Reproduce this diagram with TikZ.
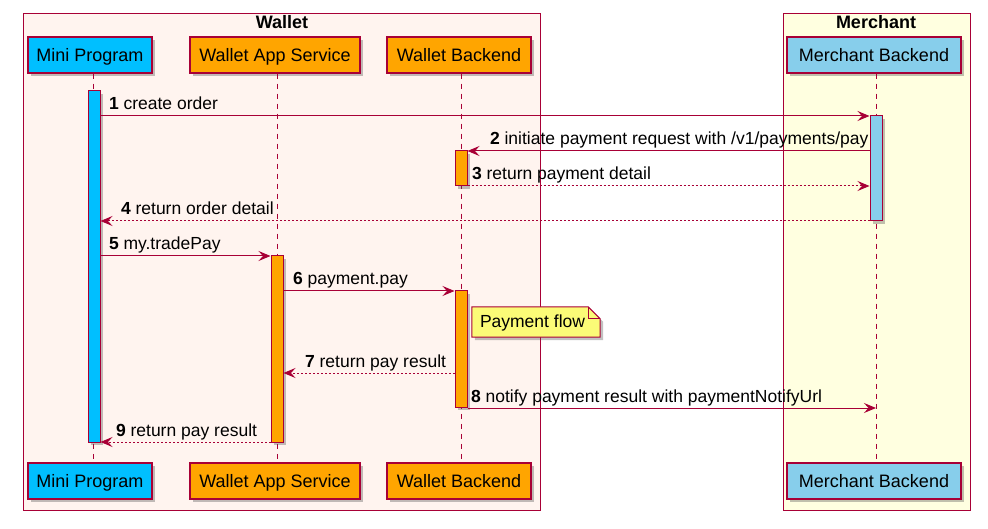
\documentclass[tikz,border=0pt]{standalone}
\usepackage{fontspec}
\setmainfont{Liberation Sans}
\usetikzlibrary{arrows.meta,positioning,shadows}

\definecolor{umlred}{HTML}{A80036}
\definecolor{walletbg}{HTML}{FFF4EF}
\definecolor{merchbg}{HTML}{FFFFE0}
\definecolor{miniblue}{HTML}{00BFFF}
\definecolor{walletorange}{HTML}{FFA500}
\definecolor{merchblue}{HTML}{87CEEB}
\definecolor{noteyellow}{HTML}{FBFB77}

\tikzset{
  shade/.style={drop shadow={shadow xshift=3pt,shadow yshift=-3pt,opacity=0.35,fill=black!70}},
  part/.style={draw=umlred,line width=1.5pt,minimum height=36pt,inner sep=0pt,
    text height=13pt,text depth=0pt,font=\fontsize{18}{20}\selectfont,shade},
  act/.style={draw=umlred,line width=1pt,minimum width=12pt,inner sep=0pt,shade},
  life/.style={umlred,line width=1pt,dash pattern=on 5pt off 5pt},
  msg/.style={umlred,line width=1pt,-{Stealth[length=12pt,width=10pt,inset=4.5pt]}},
  reply/.style={msg,dash pattern=on 2pt off 2pt},
  grp/.style={draw=umlred,line width=1pt},
  grptitle/.style={font=\fontsize{18}{20}\selectfont\bfseries},
  lbl/.style={anchor=base west,inner sep=0pt,yshift=6pt,text=black,
    font=\fontsize{17.5}{20}\selectfont},
  lblR/.style={lbl,xshift=8pt},
  lblL/.style={lbl,xshift=20pt},
  notebox/.style={minimum width=128pt,minimum height=30pt,inner sep=0pt},
}

\begin{document}
\begin{tikzpicture}[x=1pt,y=-1pt]
    \useasboundingbox (0,0) rectangle (988,529);
    % boxes
    \draw[grp,fill=walletbg] (23,14) rectangle (540,510);
    \draw[grp,fill=merchbg] (783,14) rectangle (970,510);
    \node[grptitle] (wallet) at (282,22) {Wallet};
    \node[grptitle] (merchant) at (876,22) {Merchant};

    % participants
    \node[part,fill=miniblue,minimum width=124pt] (mp) at (90,55) {Mini Program};
    \node[part,fill=walletorange,minimum width=170pt] (was) at (275,55) {Wallet App Service};
    \node[part,fill=walletorange,minimum width=144pt] (wb) at (459,55) {Wallet Backend};
    \node[part,fill=merchblue,minimum width=174pt] (mb) at (874,55) {Merchant Backend};

    \node[part,fill=miniblue,minimum width=124pt] (mp2) at (90,481) {Mini Program};
    \node[part,fill=walletorange,minimum width=170pt] (was2) at (275,481) {Wallet App Service};
    \node[part,fill=walletorange,minimum width=144pt] (wb2) at (459,481) {Wallet Backend};
    \node[part,fill=merchblue,minimum width=174pt] (mb2) at (874,481) {Merchant Backend};

    % lifelines
    \coordinate (mpL) at ([xshift=3pt]mp.south);
    \coordinate (wasL) at ([xshift=2pt]was.south);
    \coordinate (wbL) at ([xshift=2pt]wb.south);
    \coordinate (mbL) at ([xshift=2pt]mb.south);
    \draw[life] (mpL) -- ([xshift=3pt]mp2.north);
    \draw[life] (wasL) -- ([xshift=2pt]was2.north);
    \draw[life] (wbL) -- ([xshift=2pt]wb2.north);
    \draw[life] (mbL) -- ([xshift=2pt]mb2.north);

    % activations
    \node[act,fill=miniblue,minimum height=351pt] (mpA) at (94,266.5) {};
    \node[act,fill=merchblue,minimum height=105pt] (mbA) at (876,168.5) {};
    \node[act,fill=walletorange,minimum height=35pt] (wbA) at (461,168.5) {};
    \node[act,fill=walletorange,minimum height=186pt] (wasA) at (277,349) {};
    \node[act,fill=walletorange,minimum height=116pt] (wbB) at (461,349) {};

    % message rows
    \coordinate (y1) at (0,116);
    \coordinate (y2) at (0,151);
    \coordinate (y3) at (0,186);
    \coordinate (y4) at (0,221);
    \coordinate (y5) at (0,256);
    \coordinate (y6) at (0,291);
    \coordinate (y7) at (0,373);
    \coordinate (y8) at (0,408);
    \coordinate (y9) at (0,442);

    \draw[msg] (mpA.east |- y1) -- (mbA.west |- y1) node[pos=0,lblR] {\textbf{1} create order};
    \draw[msg] (mbA.west |- y2) -- (wbA.east |- y2) node[pos=1,lblL,xshift=2pt] {\textbf{2} initiate payment request with /v1/payments/pay};
    \draw[reply] (wbA.east |- y3) -- (mbA.west |- y3) node[pos=0,lblR,xshift=-4pt] {\textbf{3} return payment detail};
    \draw[reply] (mbA.west |- y4) -- (mpA.east |- y4) node[pos=1,lblL] {\textbf{4} return order detail};
    \draw[msg] (mpA.east |- y5) -- (wasA.west |- y5) node[pos=0,lblR] {\textbf{5} my.tradePay};
    \draw[msg] (wasA.east |- y6) -- (wbB.west |- y6) node[pos=0,lblR,xshift=1pt] {\textbf{6} payment.pay};
    \draw[reply] (wbB.west |- y7) -- (wasA.east |- y7) node[pos=1,lblL,xshift=1pt] {\textbf{7} return pay result};
    \draw[msg] (wbB.east |- y8) -- (mbL |- y8) node[pos=0,lblR,xshift=-5pt] {\textbf{8} notify payment result with paymentNotifyUrl};
    \draw[reply] (wasA.west |- y9) -- (mpA.east |- y9) node[pos=1,lblL,xshift=-5pt] {\textbf{9} return pay result};

    % note
    \node[notebox] (note) at (536,322) {};
    \path[fill=noteyellow,draw=umlred,line width=1pt,shade] (note.south west) -- (note.north west)
        -- ([xshift=-12pt]note.north east) -- ([yshift=-12pt]note.north east)
        -- (note.south east) -- cycle;
    \draw[umlred,line width=1pt] ([xshift=-12pt]note.north east) |- ([yshift=-12pt]note.north east);
    \node[lbl,yshift=-11pt] (notetext) at ([xshift=8pt]note.west) {Payment flow};
\end{tikzpicture}
\end{document}
